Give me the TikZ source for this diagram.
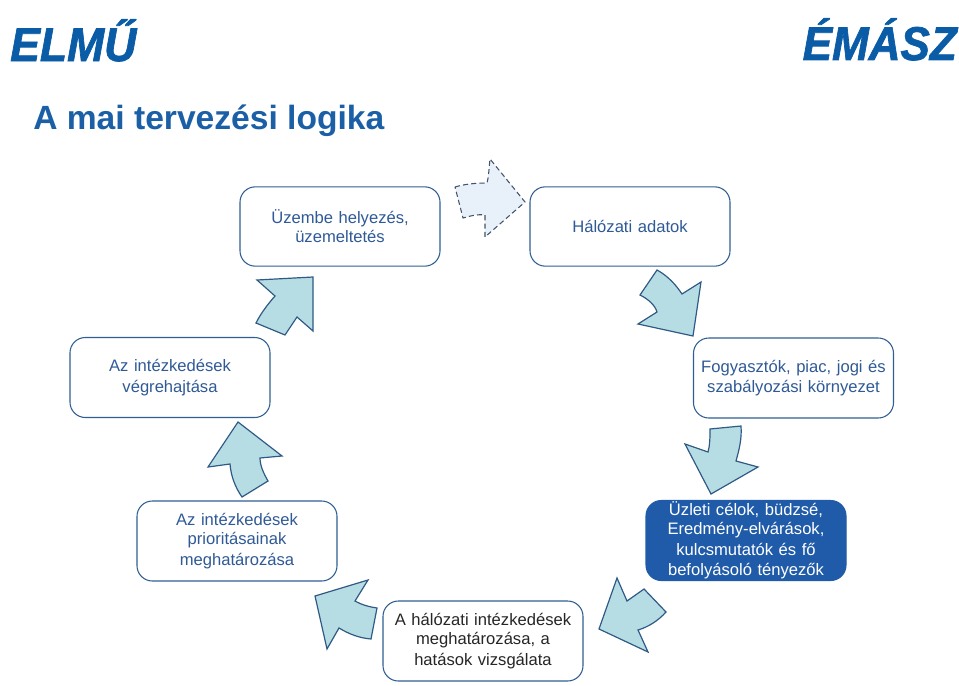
\documentclass[tikz,border=0pt]{standalone}
\usepackage{fontspec}
\setmainfont{Liberation Sans}
\newfontfamily\logofont[UprightFont=* Bold Italic,FakeBold=1.6]{Liberation Sans}
\definecolor{logoblue}{HTML}{0B5CA6}
\definecolor{titleblue}{HTML}{1B5FA6}
\definecolor{boxline}{HTML}{2F5F92}
\definecolor{boxtext}{HTML}{2F5A96}
\definecolor{solidbox}{HTML}{1F5BA8}
\definecolor{arrowfill}{HTML}{B7DDE4}
\definecolor{arrowline}{HTML}{2F5A85}
\definecolor{ghostfill}{HTML}{E8F0FA}
\definecolor{ghostline}{HTML}{44546A}
\tikzset{
  stepbox/.style={draw=boxline,line width=0.8pt,rounded corners=11.5pt,fill=white,
    minimum width=150pt,minimum height=60pt,inner sep=0pt,align=center,text width=150pt,
    text=boxtext,font=\fontsize{12.45}{15.3}\selectfont},
  solidstep/.style={stepbox,fill=solidbox,draw=solidbox,text=white},
  flowarrow/.style={draw=arrowline,line width=0.9pt,fill=arrowfill,line join=miter},
  ghostarrow/.style={draw=ghostline,line width=0.8pt,dash pattern=on 3.8pt off 2.4pt,fill=ghostfill},
  logotext/.style={inner sep=0pt,text=logoblue,font=\fontsize{35.5}{36}\logofont},
}
\begin{document}
\begin{tikzpicture}[x=0.75pt,y=-0.75pt]
\useasboundingbox (0,0) rectangle (959,685);
% logos
\node[logotext,anchor=base west,xscale=0.94] (elmu) at (10,61) {ELMŰ};
\node[logotext,anchor=base east,xscale=0.93] (emasz) at (957,60) {ÉMÁSZ};
% title
\node[inner sep=0pt,anchor=base west,text=titleblue,font=\fontsize{25.2}{26}\selectfont\bfseries] (title) at (33,129) {A mai tervezési logika};
% boxes
\node[stepbox,minimum height=59.5pt] (a) at (340,226.5) {\raisebox{-1pt}{Üzembe helyezés,}\\üzemeltetés};
\node[stepbox,minimum height=59.5pt] (b) at (630,226.5) {Hálózati adatok};
\node[stepbox] (c) at (793.5,378) {Fogyasztók, piac, jogi és\\szabályozási környezet};
\node[solidstep] (d) at (746,540.5) {\raisebox{-1pt}{Üzleti célok, büdzsé,}\\Eredmény-elvárások,\\kulcsmutatók és fő\\befolyásoló tényezők};
\node[stepbox,text=black!85] (e) at (483,641) {\raisebox{-1pt}{A hálózati intézkedések}\\meghatározása, a\\hatások vizsgálata};
\node[stepbox] (f) at (237,541) {\raisebox{-1pt}{Az intézkedések}\\prioritásainak\\meghatározása};
\node[stepbox] (g) at (170,377.5) {Az intézkedések\\végrehajtása};
% arrows
\draw[ghostarrow] (455,187) .. controls (465,184) and (476,183) .. (487,183) .. controls (489,175) and (489,167) .. (490,159) -- (525,202) -- (485,237) -- (485,215) .. controls (477,214) and (470,216) .. (463,218) -- cycle;
\draw[flowarrow] (657,270) .. controls (668,276) and (676,285) .. (682,294) -- (701,282) -- (693,336) -- (638,324) -- (657,312) .. controls (655,305) and (648,299) .. (640,295) -- cycle;
\draw[flowarrow] (710,429) -- (741,426) .. controls (742,439) and (739,450) .. (736,461) -- (758,467) -- (711,494) -- (685,444) -- (708,452) .. controls (710,445) and (710,437) .. (710,429) -- cycle;
\draw[flowarrow] (617,578) -- (627,601) -- (644,589) -- (666,612) .. controls (658,621) and (648,627) .. (638,630) -- (648,652) -- (599,629) -- cycle;
\draw[flowarrow] (315,596) -- (368,580) -- (355,601) .. controls (362,605) and (370,607) .. (377,608) -- (371,639) .. controls (359,638) and (349,634) .. (339,628) -- (327,649) -- cycle;
\draw[flowarrow] (238,422) -- (282,456) -- (260,458) .. controls (260,466) and (264,474) .. (268,481) -- (242,497) .. controls (235,487) and (231,476) .. (230,464) -- (208,467) -- cycle;
\draw[flowarrow] (257,280) -- (313,277) -- (313,331) -- (297,317) -- (285,335) -- (256,323) .. controls (261,313) and (268,304) .. (275,296) -- cycle;
\end{tikzpicture}
\end{document}
